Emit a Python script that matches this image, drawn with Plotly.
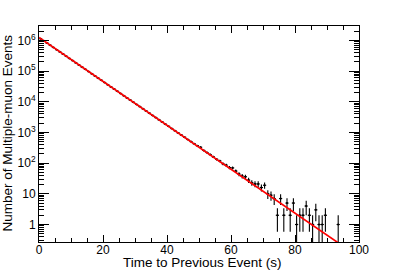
import plotly.graph_objects as go
import math

# --- data ---
bin_centers = [i + 0.5 for i in range(100)]
counts = [
    1140000, 967000, 820000, 696000, 590000, 501000, 425000, 360000, 305000, 259000,
    220000, 186000, 158000, 134000, 114000, 96700, 82000, 69600, 59000, 50100,
    42500, 36000, 30500, 25900, 22000, 18600, 15800, 13400, 11400, 9670,
    8200, 6960, 5900, 5010, 4250, 3600, 3050, 2590, 2200, 1860,
    1580, 1340, 1140, 967, 820, 700, 590, 505, 430, 370,
    330, 259, 222, 190, 160, 134, 118, 95, 86, 72,
    70, 55, 44, 38, 36, 28, 23, 21, 21, 16,
    19, 10, 9, 7, 2, 7, 2, 5, 2, 5,
    1, 2, 2, 4, 2, 1, 3, 1, 1, 2,
    0, 0, 0, 1, 0, 0, 0, 0, 0, 0,
]
fit_amplitude = 1.24e6     # value of fit at t = 0
fit_tau = 6.07             # decay constant (s)

x_ticks = [0, 20, 40, 60, 80, 100]
y_tickvals = [1, 10, 100, 1e3, 1e4, 1e5, 1e6]
y_ticktext = ["1", "10", "10<sup>2</sup>", "10<sup>3</sup>", "10<sup>4</sup>",
              "10<sup>5</sup>", "10<sup>6</sup>"]
x_title = "Time to Previous Event (s)"
y_title = "Number of Multiple-muon Events"

# --- build traces ---
px, py, perr = [], [], []
for x, n in zip(bin_centers, counts):
    if n > 0:
        px.append(x)
        py.append(n)
        perr.append(math.sqrt(n))

fit_x = [i * 0.25 for i in range(401)]
fit_y = [fit_amplitude * math.exp(-t / fit_tau) for t in fit_x]

fig = go.Figure()
fig.add_trace(go.Scatter(
    x=px, y=py, mode="markers",
    marker=dict(color="black", size=2),
    error_y=dict(type="data", array=perr, color="black", thickness=1.1, width=0),
    error_x=dict(type="constant", value=0.5, color="black", thickness=1.1, width=0),
    showlegend=False,
))
fig.add_trace(go.Scatter(
    x=fit_x, y=fit_y, mode="lines",
    line=dict(color="#ff0000", width=1.7),
    showlegend=False,
))

minor_y = []
for d in range(-1, 7):
    for k in range(2, 10):
        minor_y.append(k * 10 ** d)

font_family = "Liberation Sans, Arial, sans-serif"
W, H = 399, 270
L, R, T, B = 39, 40, 26, 28
fig.update_layout(
    width=W, height=H,
    margin=dict(l=L, r=R, t=T, b=B),
    paper_bgcolor="white", plot_bgcolor="white",
    font=dict(family=font_family, color="black", size=12),
    xaxis=dict(
        range=[0, 100], tickvals=x_ticks, ticktext=[str(v) for v in x_ticks],
        ticks="inside", ticklen=7, tickwidth=1, tickcolor="black",
        minor=dict(dtick=5, ticks="inside", ticklen=4, tickcolor="black"),
        showline=True, linecolor="black", linewidth=1, mirror="allticks",
        showgrid=False, zeroline=False, automargin=False,
        tickfont=dict(size=12), ticklabelstandoff=-3,
    ),
    yaxis=dict(
        type="log", range=[-0.57, 6.47],
        tickmode="array", tickvals=y_tickvals, ticktext=y_ticktext,
        ticks="inside", ticklen=10, tickwidth=1, tickcolor="black",
        minor=dict(tickmode="array", tickvals=minor_y, ticks="inside", ticklen=5, tickcolor="black"),
        showline=True, linecolor="black", linewidth=1, mirror="allticks",
        showgrid=False, zeroline=False, automargin=False,
        tickfont=dict(size=12),
    ),
)

pw, ph = W - L - R, H - T - B
fig.add_annotation(
    text=x_title, xref="paper", yref="paper",
    x=(202 - L) / pw, y=-(262.5 - (T + ph)) / ph,
    xanchor="center", yanchor="middle", showarrow=False,
    font=dict(size=13.5, family=font_family, color="black"),
)
fig.add_annotation(
    text=y_title, xref="paper", yref="paper",
    x=(7 - L) / pw, y=(T + ph - 133.5) / ph,
    xanchor="center", yanchor="middle", showarrow=False, textangle=-90,
    font=dict(size=13.5, family=font_family, color="black"),
)

fig.write_html(
    "out.html",
    config={"displayModeBar": False},
    post_script="document.body.style.margin='0px';document.body.style.padding='0px';",
)
